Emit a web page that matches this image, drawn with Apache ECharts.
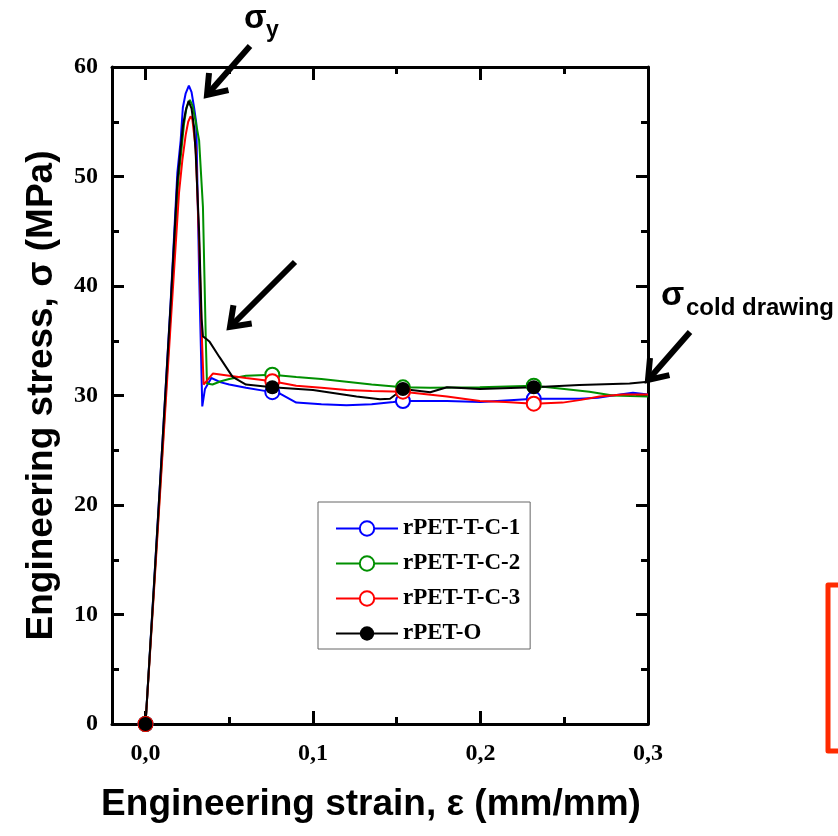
<!DOCTYPE html>
<html>
<head>
<meta charset="utf-8">
<title>Engineering stress-strain</title>
<script src="https://cdn.jsdelivr.net/npm/echarts@6/dist/echarts.min.js"></script>
<style>
  html, body { margin: 0; padding: 0; background: #fff; }
  #chart { width: 838px; height: 836px; }
</style>
</head>
<body>
<div id="chart"></div>
<script>
// tick values
var xMajorTicks = [0, 0.1, 0.2, 0.3];
var xMinorTicks = [0.05, 0.15, 0.25];
// strain positions where the curves carry a marker
var markerX = [0, 0.0757, 0.1537, 0.2318];

var seriesNames = ['rPET-T-C-1', 'rPET-T-C-2', 'rPET-T-C-3', 'rPET-O'];

// rPET-T-C-1 (blue)
var c1Strain = [0, 0.005, 0.0102, 0.015, 0.019, 0.021, 0.0223, 0.024, 0.0259, 0.0275, 0.029, 0.0303, 0.032, 0.0339, 0.0355, 0.0393, 0.045, 0.050, 0.060, 0.072, 0.0757, 0.080, 0.090, 0.105, 0.120, 0.135, 0.148, 0.1537, 0.165, 0.180, 0.200, 0.220, 0.2318, 0.245, 0.259, 0.270, 0.279, 0.291, 0.300];
var c1Stress = [0, 12.6, 25.9, 38.5, 50.3, 53.3, 56.3, 57.6, 58.3, 57.7, 56.3, 54.9, 41.2, 29.0, 30.6, 31.6, 31.2, 31.0, 30.7, 30.4, 30.3, 30.2, 29.35, 29.2, 29.1, 29.2, 29.4, 29.5, 29.5, 29.5, 29.4, 29.6, 29.7, 29.7, 29.7, 29.8, 30.0, 30.25, 30.1];

// rPET-T-C-2 (green)
var c2Strain = [0, 0.005, 0.0105, 0.015, 0.0195, 0.0215, 0.023, 0.0245, 0.0265, 0.028, 0.030, 0.032, 0.0343, 0.036, 0.0367, 0.040, 0.045, 0.050, 0.060, 0.0757, 0.090, 0.105, 0.120, 0.135, 0.1537, 0.170, 0.1996, 0.2318, 0.250, 0.265, 0.279, 0.300];
var c2Stress = [0, 12.3, 25.9, 37.5, 49.5, 52.5, 54.8, 56.3, 57.0, 56.5, 55.0, 53.3, 47.2, 35.1, 31.1, 31.0, 31.3, 31.5, 31.8, 31.9, 31.7, 31.5, 31.26, 31.0, 30.75, 30.7, 30.75, 30.9, 30.6, 30.35, 30.0, 29.9];

// rPET-T-C-3 (red)
var c3Strain = [0, 0.005, 0.0105, 0.015, 0.020, 0.022, 0.024, 0.0255, 0.0269, 0.028, 0.030, 0.032, 0.0335, 0.0347, 0.0402, 0.050, 0.060, 0.0757, 0.090, 0.105, 0.120, 0.135, 0.1537, 0.180, 0.1996, 0.215, 0.2318, 0.249, 0.260, 0.271, 0.285, 0.300];
var c3Stress = [0, 12.0, 25.5, 36.5, 48.5, 51.5, 53.8, 55.0, 55.5, 55.2, 52.5, 44.0, 36.0, 31.0, 32.0, 31.8, 31.6, 31.3, 30.9, 30.7, 30.5, 30.4, 30.35, 29.9, 29.5, 29.4, 29.25, 29.35, 29.6, 29.9, 30.1, 30.1];

// rPET-O (black)
var oStrain = [0, 0.005, 0.0102, 0.015, 0.019, 0.021, 0.0225, 0.024, 0.0257, 0.0275, 0.029, 0.030, 0.032, 0.0335, 0.0343, 0.036, 0.0383, 0.0442, 0.052, 0.060, 0.0757, 0.100, 0.126, 0.140, 0.146, 0.1537, 0.170, 0.180, 0.1996, 0.2318, 0.259, 0.289, 0.300];
var oStress = [0, 12.5, 25.9, 38.3, 49.5, 52.6, 54.8, 56.0, 56.9, 56.2, 54.5, 52.0, 45.0, 37.0, 35.4, 35.2, 34.9, 33.5, 31.7, 31.0, 30.75, 30.5, 29.9, 29.65, 29.7, 30.6, 30.3, 30.75, 30.6, 30.75, 30.95, 31.1, 31.25];

var chart = echarts.init(document.getElementById('chart'));

function buildData(xs, ys) {
  return xs.map(function (x, i) {
    if (markerX.indexOf(x) > -1) return [x, ys[i]];
    return { value: [x, ys[i]], symbol: 'none' };
  });
}

function lineSeries(name, color, xs, ys, filled) {
  return {
    name: name,
    type: 'line',
    xAxisIndex: 0,
    yAxisIndex: 0,
    data: buildData(xs, ys),
    symbol: filled ? 'circle' : 'emptyCircle',
    symbolSize: 14,
    showAllSymbol: true,
    lineStyle: { color: color, width: 2 },
    itemStyle: { color: color, borderWidth: 1.5 },
    emphasis: { disabled: true },
    animation: false
  };
}

// arrow annotation: straight shaft with an open V head
function arrow(x1, y1, x2, y2) {
  var ang = Math.atan2(y2 - y1, x2 - x1);
  var len = 22, spread = Math.PI / 5;
  var a1 = [x2 - len * Math.cos(ang - spread), y2 - len * Math.sin(ang - spread)];
  var a2 = [x2 - len * Math.cos(ang + spread), y2 - len * Math.sin(ang + spread)];
  return {
    type: 'group',
    children: [
      { type: 'line', shape: { x1: x1, y1: y1, x2: x2, y2: y2 }, style: { stroke: '#000', lineWidth: 6 } },
      { type: 'polyline', shape: { points: [a1, [x2, y2], a2] }, style: { stroke: '#000', lineWidth: 6, fill: null, lineJoin: 'miter' } }
    ]
  };
}

var fmtStrain = function (v) { return v.toFixed(1).replace('.', ','); };
var serifBold = { fontFamily: 'Liberation Serif', fontWeight: 'bold', color: '#000' };
var sansBold = { fontFamily: 'Liberation Sans', fontWeight: 'bold', color: '#000' };
var frameLine = { show: true, onZero: false, lineStyle: { color: '#000', width: 3 } };

var option = {
  backgroundColor: '#fff',
  animation: false,
  grid: [
    { left: 112, top: 67, width: 536, height: 657 },
    { left: 112, top: 67, width: 536, height: 657 }
  ],
  xAxis: [
    {
      gridIndex: 0, type: 'value', position: 'bottom', min: -0.02, max: 0.3,
      name: 'Engineering strain, ε (mm/mm)', nameLocation: 'middle', nameGap: 62,
      nameTextStyle: Object.assign({ fontSize: 37, padding: [0, 18, 0, 0] }, sansBold),
      axisLine: frameLine,
      axisTick: { show: true, inside: true, length: 13, lineStyle: { width: 3, color: '#000' }, customValues: xMajorTicks },
      axisLabel: Object.assign({ fontSize: 24, margin: 18, formatter: fmtStrain, customValues: xMajorTicks }, serifBold),
      splitLine: { show: false }
    },
    {
      gridIndex: 0, type: 'value', position: 'top', min: -0.02, max: 0.3,
      axisLine: frameLine,
      axisTick: { show: true, inside: true, length: 13, lineStyle: { width: 3, color: '#000' }, customValues: xMajorTicks },
      axisLabel: { show: false },
      splitLine: { show: false }
    },
    {
      gridIndex: 1, type: 'value', position: 'bottom', min: -0.02, max: 0.3,
      axisLine: { show: false, onZero: false },
      axisTick: { show: true, inside: true, length: 7, lineStyle: { width: 3, color: '#000' }, customValues: xMinorTicks },
      axisLabel: { show: false },
      splitLine: { show: false }
    },
    {
      gridIndex: 1, type: 'value', position: 'top', min: -0.02, max: 0.3,
      axisLine: { show: false, onZero: false },
      axisTick: { show: true, inside: true, length: 7, lineStyle: { width: 3, color: '#000' }, customValues: xMinorTicks },
      axisLabel: { show: false },
      splitLine: { show: false }
    }
  ],
  yAxis: [
    {
      gridIndex: 0, type: 'value', position: 'left', min: 0, max: 60, interval: 10,
      name: 'Engineering stress, σ (MPa)', nameLocation: 'middle', nameGap: 52,
      nameTextStyle: Object.assign({ fontSize: 37 }, sansBold),
      axisLine: frameLine,
      axisTick: { show: true, inside: true, length: 12, lineStyle: { width: 3, color: '#000' } },
      minorTick: { show: true, splitNumber: 2, length: 7, lineStyle: { width: 3, color: '#000' } },
      axisLabel: Object.assign({ fontSize: 24, margin: 14 }, serifBold),
      splitLine: { show: false }
    },
    {
      gridIndex: 0, type: 'value', position: 'right', min: 0, max: 60, interval: 10,
      axisLine: frameLine,
      axisTick: { show: true, inside: true, length: 12, lineStyle: { width: 3, color: '#000' } },
      minorTick: { show: true, splitNumber: 2, length: 7, lineStyle: { width: 3, color: '#000' } },
      axisLabel: { show: false },
      splitLine: { show: false }
    },
    {
      gridIndex: 1, type: 'value', min: 0, max: 60, show: false
    }
  ],
  legend: {
    orient: 'vertical',
    left: 318,
    top: 502,
    padding: [15, 10, 4, 17],
    itemWidth: 62,
    itemHeight: 18,
    itemGap: 12,
    borderColor: '#666',
    borderWidth: 1,
    backgroundColor: '#fff',
    data: seriesNames,
    textStyle: Object.assign({ fontSize: 23 }, serifBold)
  },
  series: [
    lineSeries(seriesNames[0], '#0000ff', c1Strain, c1Stress, false),
    lineSeries(seriesNames[1], '#009000', c2Strain, c2Stress, false),
    lineSeries(seriesNames[2], '#ff0000', c3Strain, c3Stress, false),
    lineSeries(seriesNames[3], '#000000', oStrain, oStress, true)
  ],
  graphic: [
    arrow(250, 46, 207, 95),
    arrow(295, 262, 230, 327),
    arrow(690, 332, 648, 380),
    { type: 'text', x: 244, y: 19, style: { text: 'σ', fontSize: 33, verticalAlign: 'middle', fill: '#000', fontFamily: 'Liberation Sans', fontWeight: 'bold' } },
    { type: 'text', x: 266, y: 31, style: { text: 'y', fontSize: 23, verticalAlign: 'middle', fill: '#000', fontFamily: 'Liberation Sans', fontWeight: 'bold' } },
    { type: 'text', x: 661, y: 296, style: { text: 'σ', fontSize: 34, verticalAlign: 'middle', fill: '#000', fontFamily: 'Liberation Sans', fontWeight: 'bold' } },
    { type: 'text', x: 686, y: 308, style: { text: 'cold drawing', fontSize: 24, verticalAlign: 'middle', fill: '#000', fontFamily: 'Liberation Sans', fontWeight: 'bold' } },
    { type: 'polyline', shape: { points: [[845, 585], [828, 585], [828, 751], [845, 751]] }, style: { stroke: '#ff2a00', lineWidth: 5, fill: null, lineJoin: 'round' } }
  ]
};

chart.setOption(option);
</script>
</body>
</html>
